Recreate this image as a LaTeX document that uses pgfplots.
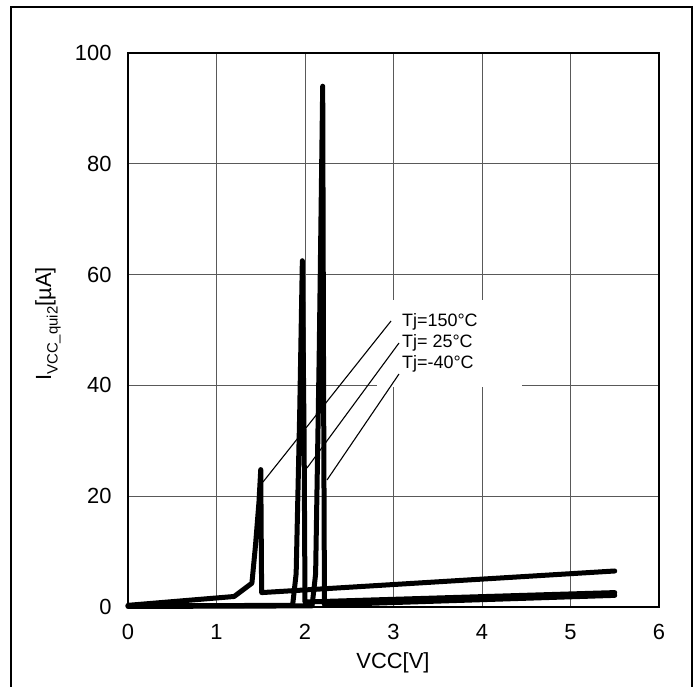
\documentclass[border=0pt]{standalone}
\usepackage{fontspec}
\setmainfont{Liberation Sans}
\usepackage{pgfplots}
\pgfplotsset{compat=1.18}
\begin{document}
\begin{tikzpicture}
  \useasboundingbox (0,0) rectangle (699bp,687bp);
  % outer frame
  \draw[line width=2bp] (11bp,-5bp) -- (11bp,680bp) -- (692bp,680bp) -- (692bp,-5bp);
  \begin{axis}[
      at={(128bp,80bp)}, anchor=south west,
      scale only axis, width=531bp, height=554bp,
      xmin=0, xmax=6, ymin=0, ymax=100,
      xtick={0,1,...,6}, ytick={0,20,...,100},
      major tick length=0pt,
      grid=major,
      major grid style={line width=0.9bp, black!65},
      axis line style={line width=2.6bp},
      tick label style={font=\fontsize{22}{24}\selectfont},
      xticklabel style={yshift=-13.5bp},
      yticklabel style={xshift=-13bp},
      /pgf/number format/assume math mode=true,
      clip=false,
    ]
    \pgfplotsset{curve/.style={black, no marks, line width=5bp, line cap=round, line join=round}}
    % Tj=150C
    \addplot[curve] coordinates {(0,0.3) (1.2,1.9) (1.4,4.3) (1.44,11) (1.48,19) (1.5,24.8) (1.51,2.6) (5.5,6.5)};
    % Tj=25C
    \addplot[curve] coordinates {(0,0.2) (1.86,0.3) (1.9,6) (1.94,35) (1.97,62.5) (1.99,30) (2.0,0.9) (5.5,2.6)};
    % Tj=-40C
    \addplot[curve] coordinates {(0,0.1) (2.08,0.2) (2.12,6) (2.16,45) (2.2,94) (2.21,40) (2.22,0.4) (5.5,2.1)};
  \end{axis}
  % label box with leader lines
  \fill[white] (377bp,300bp) rectangle (522bp,387bp);
  \draw[line width=1.1bp] (391bp,366bp) -- (263bp,205bp);
  \draw[line width=1.1bp] (399bp,344bp) -- (307bp,219bp);
  \draw[line width=1.1bp] (399bp,313bp) -- (327bp,207bp);
  \begin{scope}[font=\fontsize{18}{20}\selectfont, inner sep=0pt]
    \node[anchor=base west] at (402bp,360bp) {Tj=150°C};
    \node[anchor=base west] at (402bp,339bp) {Tj= 25°C};
    \node[anchor=base west] at (402bp,318bp) {Tj=-40°C};
  \end{scope}
  % axis titles
  \node[rotate=90, font=\fontsize{22}{24}\selectfont] at (48bp,363bp)
    {I\raisebox{-0.3em}{\fontsize{15}{16}\selectfont VCC\_qui2}[µA]};
  \node[font=\fontsize{22}{24}\selectfont] at (393bp,24bp) {VCC[V]};
\end{tikzpicture}
\end{document}
